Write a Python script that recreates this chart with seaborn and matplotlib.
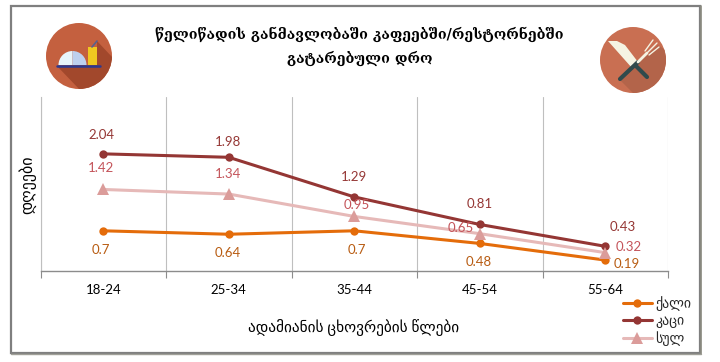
import matplotlib
matplotlib.use('Agg')
import matplotlib.pyplot as plt
from matplotlib.lines import Line2D
from matplotlib.patches import Circle, Polygon, Rectangle, Wedge
import pandas as pd
import seaborn as sns

ages = ['18-24', '25-34', '35-44', '45-54', '55-64']
qali = [0.7, 0.64, 0.7, 0.48, 0.19]
kaci = [2.04, 1.98, 1.29, 0.81, 0.43]
sul = [1.42, 1.34, 0.95, 0.65, 0.32]
series_names = ['ქალი', 'კაცი', 'სულ']

title = 'წელიწადის განმავლობაში კაფეებში/რესტორნებში\nგატარებული დრო'
xlabel = 'ადამიანის ცხოვრების წლები'
ylabel = 'დღეები'

# label offsets from the point, in pixels
off_qali = [(-2, -19), (-1, -19), (3, -19), (-1, -19), (21, -4)]
off_kaci = [(-2, 19), (-1, 15), (0, 20), (0, 20), (18, 19)]
off_sul = [(-2, 21), (-1, 20), (3, 11), (-19, 6), (23, 6)]

col_qali = '#E46C0A'
col_kaci = '#943634'
col_sul = '#E6B9B8'
col_tri = '#DB9C9A'

W, H = 720, 362

sns.set_theme(style='white')
plt.rcParams['font.family'] = ['Lato', 'DejaVu Sans']

df = pd.DataFrame({
    'age': ages * 3,
    'days': qali + kaci + sul,
    'who': [n for n in series_names for _ in ages],
})

fig = plt.figure(figsize=(7.2, 3.62), dpi=100)
fig.patch.set_facecolor('white')

# full-figure axes in pixel coordinates for frame and icons
bg = fig.add_axes([0, 0, 1, 1], zorder=0)
bg.set_xlim(0, W)
bg.set_ylim(H, 0)
bg.axis('off')
bg.add_patch(Rectangle((11, 5.5), 689, 347.5, fill=False, ec='#7F7F7F', lw=1.6))
bg.plot([701, 701], [6, 354], color='#8A8A80', lw=1.2)
bg.plot([11, 701], [353.8, 353.8], color='#A0A098', lw=1)

# left icon
c1 = Circle((79, 56), 33, fc='#C4603F', ec='none')
bg.add_patch(c1)
sh1 = Polygon([(57, 66), (80, 90), (113, 90), (113, 58), (97, 41), (97, 65)], fc='#A2482C', ec='none')
bg.add_patch(sh1)
sh1.set_clip_path(c1)
bg.add_patch(Wedge((72.5, 65), 14, 180, 270, fc='#E8F5FB', ec='none'))
bg.add_patch(Wedge((72.5, 65), 14, 270, 360, fc='#BDD0EF', ec='none'))
bg.add_patch(Rectangle((88, 47), 9, 18, fc='#F0C820', ec='none'))
bg.plot([92, 97], [47, 41], color='#56608F', lw=1.2)
bg.plot([57, 100], [66, 66], color='#2B3990', lw=1.8, solid_capstyle='round')

# right icon
c2 = Circle((633, 60), 33, fc='#C96F52', ec='none')
bg.add_patch(c2)
sh2 = Polygon([(620, 80), (640, 100), (680, 100), (680, 60), (658, 45), (647, 55), (638, 62)], fc='#B3644A', ec='none')
bg.add_patch(sh2)
sh2.set_clip_path(c2)
bg.add_patch(Polygon([(608, 41), (617, 41), (625, 45), (638, 62), (632, 68)], fc='#F5F3E2', ec='none'))
bg.plot([636, 647], [66, 77], color='#2F4A4C', lw=3, solid_capstyle='round')
bg.plot([638, 620], [62, 79], color='#2F4A4C', lw=3, solid_capstyle='round')
bg.plot([638, 647], [62, 53], color='#F5F3E2', lw=2)
for tx, ty, bx, by in [(653, 40, 645, 51), (657, 43, 647, 53), (659, 47, 649, 55)]:
    bg.plot([bx, tx], [by, ty], color='#F5F3E2', lw=1)

ax = fig.add_axes([40.5 / W, 1 - 271 / H, 627.5 / W, 174 / H], zorder=1)
ax.patch.set_alpha(0)

sns.lineplot(data=df, x='age', y='days', hue='who', style='who', ax=ax, sort=False,
             palette=[col_qali, col_kaci, col_sul], markers=['o', 'o', '^'], dashes=False,
             linewidth=2.2, markersize=6, markeredgewidth=0, legend=False, zorder=3)

ax.set_xlim(-0.5, 4.5)
ax.set_ylim(0, 3.03)
ax.set_yticks([])
ax.set_xticks([0.5, 1.5, 2.5, 3.5, 4.5, -0.5], minor=True)
ax.set_xticks(range(5))
ax.tick_params(axis='x', which='major', length=0, pad=9, labelsize=9.5, labelcolor='black')
ax.tick_params(axis='x', which='minor', length=5, width=0.8, color='#8C8C8C', bottom=True)
ax.grid(False)
ax.grid(True, axis='x', which='minor', color='#BFBFBF', lw=0.8)
ax.set_xlabel('')
ax.set_ylabel('')
for s in ['top', 'right']:
    ax.spines[s].set_visible(False)
ax.spines['left'].set_color('#BFBFBF')
ax.spines['left'].set_linewidth(0.8)
ax.spines['bottom'].set_color('#8C8C8C')
ax.spines['bottom'].set_linewidth(1)

# triangles a bit darker than the line
tri = ax.lines[2]
tri.set_markerfacecolor(col_tri)
tri.set_markersize(8)

px = 72 / fig.dpi
for vals, offs, col in [(qali, off_qali, '#B85C12'), (kaci, off_kaci, '#953735'), (sul, off_sul, '#C4545A')]:
    for i, v in enumerate(vals):
        ax.annotate(str(v), (i, v), xytext=(offs[i][0] * px, offs[i][1] * px),
                    textcoords='offset points', ha='center', va='center',
                    fontsize=9.5, color=col, zorder=5)

bg.text(359.5, 46, title, ha='center', va='center', fontsize=10.3, fontweight='bold',
        family=['DejaVu Serif', 'DejaVu Sans'], color='black', linespacing=1.75)
bg.text(354, 327, xlabel, ha='center', va='center', fontsize=11, color='black')
bg.text(27, 185, ylabel, ha='center', va='center', rotation=90, fontsize=11.5, color='black')

# legend
handles = [
    Line2D([], [], color=col_qali, lw=2.2, marker='o', ms=6, mew=0),
    Line2D([], [], color=col_kaci, lw=2.2, marker='o', ms=6, mew=0),
    Line2D([], [], color=col_sul, lw=2.2, marker='^', ms=8, mew=0, mfc=col_tri),
]
fig.legend(handles, series_names, loc='center left', bbox_to_anchor=(622.5 / W, 1 - 321 / H),
           frameon=False, fontsize=10, handlelength=2.1, labelspacing=0.28,
           handletextpad=0.25, borderpad=0, borderaxespad=0)

fig.savefig('out.png', dpi=100)
